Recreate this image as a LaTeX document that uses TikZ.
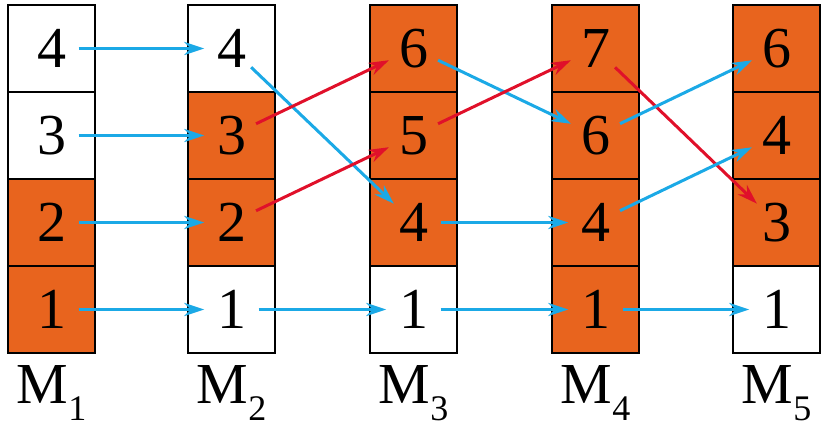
\documentclass[tikz,border=0pt]{standalone}
\usepackage{fontspec}
\setmainfont{Liberation Serif}
\usetikzlibrary{arrows.meta}
\definecolor{cellorange}{HTML}{E8641E}
\definecolor{arrblue}{HTML}{1BA9E6}
\definecolor{arrred}{HTML}{E0102A}
\tikzset{
cell/.style={draw,line width=2.5pt},
digit/.style={circle,minimum size=54pt,inner sep=0pt,font=\fontsize{58}{58}\selectfont},
blu/.style={arrblue,line width=3pt,-{Stealth[length=20pt,width=13pt]}},
rd/.style={arrred,line width=3pt,-{Stealth[length=20pt,width=13pt]}}}
\begin{document}
\begin{tikzpicture}[x=1pt,y=-1pt]
\useasboundingbox (0,0) rectangle (831,435);
% columns: x of left edge / digits top to bottom / fill flags
\foreach \c/\xl/\da/\db/\dc/\dd/\fa/\fb/\fc/\fd in {
  1/8/4/3/2/1/white/white/cellorange/cellorange,
  2/188/4/3/2/1/white/cellorange/cellorange/white,
  3/370/6/5/4/1/cellorange/cellorange/cellorange/white,
  4/552/7/6/4/1/cellorange/cellorange/cellorange/cellorange,
  5/733/6/4/3/1/cellorange/cellorange/cellorange/white} {
  \foreach \r/\d/\f in {1/\da/\fa,2/\db/\fb,3/\dc/\fc,4/\dd/\fd} {
    \draw[cell,fill=\f] (\xl,{5+87*(\r-1)}) rectangle ++(87,87);
    \node[digit] (c\c r\r) at (\xl+43.5,{48.5+87*(\r-1)}) {\d};
  }
  \node[font=\fontsize{58}{58}\selectfont] (m\c) at (\xl+43.5,393)
    {M\raisebox{-0.3em}{\fontsize{36}{36}\selectfont\c}};
}
% connectors
\foreach \r in {1,...,4} \draw[blu] (c1r\r) -- (c2r\r);
\draw[blu] (c2r1) -- (c3r3);
\draw[rd] (c2r2) -- (c3r1);
\draw[rd] (c2r3) -- (c3r2);
\draw[blu] (c2r4) -- (c3r4);
\draw[blu] (c3r1) -- (c4r2);
\draw[rd] (c3r2) -- (c4r1);
\draw[blu] (c3r3) -- (c4r3);
\draw[blu] (c3r4) -- (c4r4);
\draw[rd] (c4r1) -- (c5r3);
\draw[blu] (c4r2) -- (c5r1);
\draw[blu] (c4r3) -- (c5r2);
\draw[blu] (c4r4) -- (c5r4);
\end{tikzpicture}
\end{document}
